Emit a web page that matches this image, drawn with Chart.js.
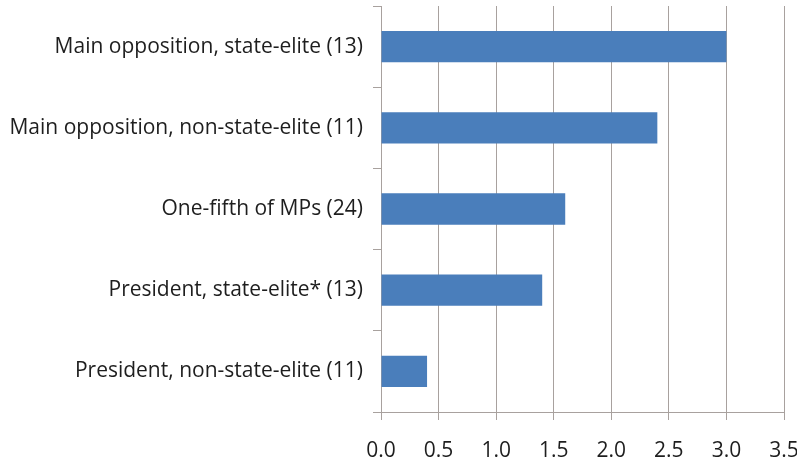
<!DOCTYPE html>
<html>
<head>
<meta charset="utf-8">
<script src="https://cdn.jsdelivr.net/npm/chart.js@4/dist/chart.umd.min.js"></script>
<style>
  body { margin: 0; background: #fff; }
  #wrap { width: 797px; height: 464px; }
</style>
</head>
<body>
<div id="wrap"><canvas id="chart" width="797" height="464"></canvas></div>
<script>
const categories = [
  "Main opposition, state-elite (13)",
  "Main opposition, non-state-elite (11)",
  "One-fifth of MPs (24)",
  "President, state-elite* (13)",
  "President, non-state-elite (11)"
];
const values = [3.0, 2.4, 1.6, 1.4, 0.4];
const xTicks = [0, 0.5, 1, 1.5, 2, 2.5, 3, 3.5];

const gridColor = "#a8a19e";
const fontFamily = "'Open Sans', Lato, sans-serif";

new Chart(document.getElementById("chart"), {
  type: "bar",
  data: {
    labels: categories,
    datasets: [{
      data: values,
      backgroundColor: "#4a7ebb",
      borderWidth: 0,
      barPercentage: 0.385,
      categoryPercentage: 1
    }]
  },
  options: {
    indexAxis: "y",
    responsive: false,
    animation: false,
    layout: { padding: { top: 6, right: 13, bottom: 0, left: 0 } },
    plugins: { legend: { display: false }, tooltip: { enabled: false } },
    scales: {
      x: {
        min: 0,
        max: 3.5,
        afterBuildTicks: scale => { scale.ticks = xTicks.map(v => ({ value: v })); },
        afterFit: scale => { scale.paddingRight = 0; scale.paddingLeft = 0; scale.height = 52; },
        ticks: {
          color: "#1e1e1e",
          font: { family: fontFamily, size: 21 },
          padding: 18,
          maxRotation: 0,
          callback: v => Number(v).toFixed(1)
        },
        grid: { color: gridColor, lineWidth: 1, tickLength: 8 },
        border: { color: gridColor }
      },
      y: {
        afterFit: scale => { scale.width = 381; scale.paddingTop = 0; scale.paddingBottom = 0; },
        ticks: {
          color: "#1e1e1e",
          font: { family: fontFamily, size: 21 },
          padding: 10
        },
        grid: { offset: true, drawOnChartArea: false, color: gridColor, tickLength: 8 },
        border: { color: gridColor }
      }
    }
  }
});
</script>
</body>
</html>
